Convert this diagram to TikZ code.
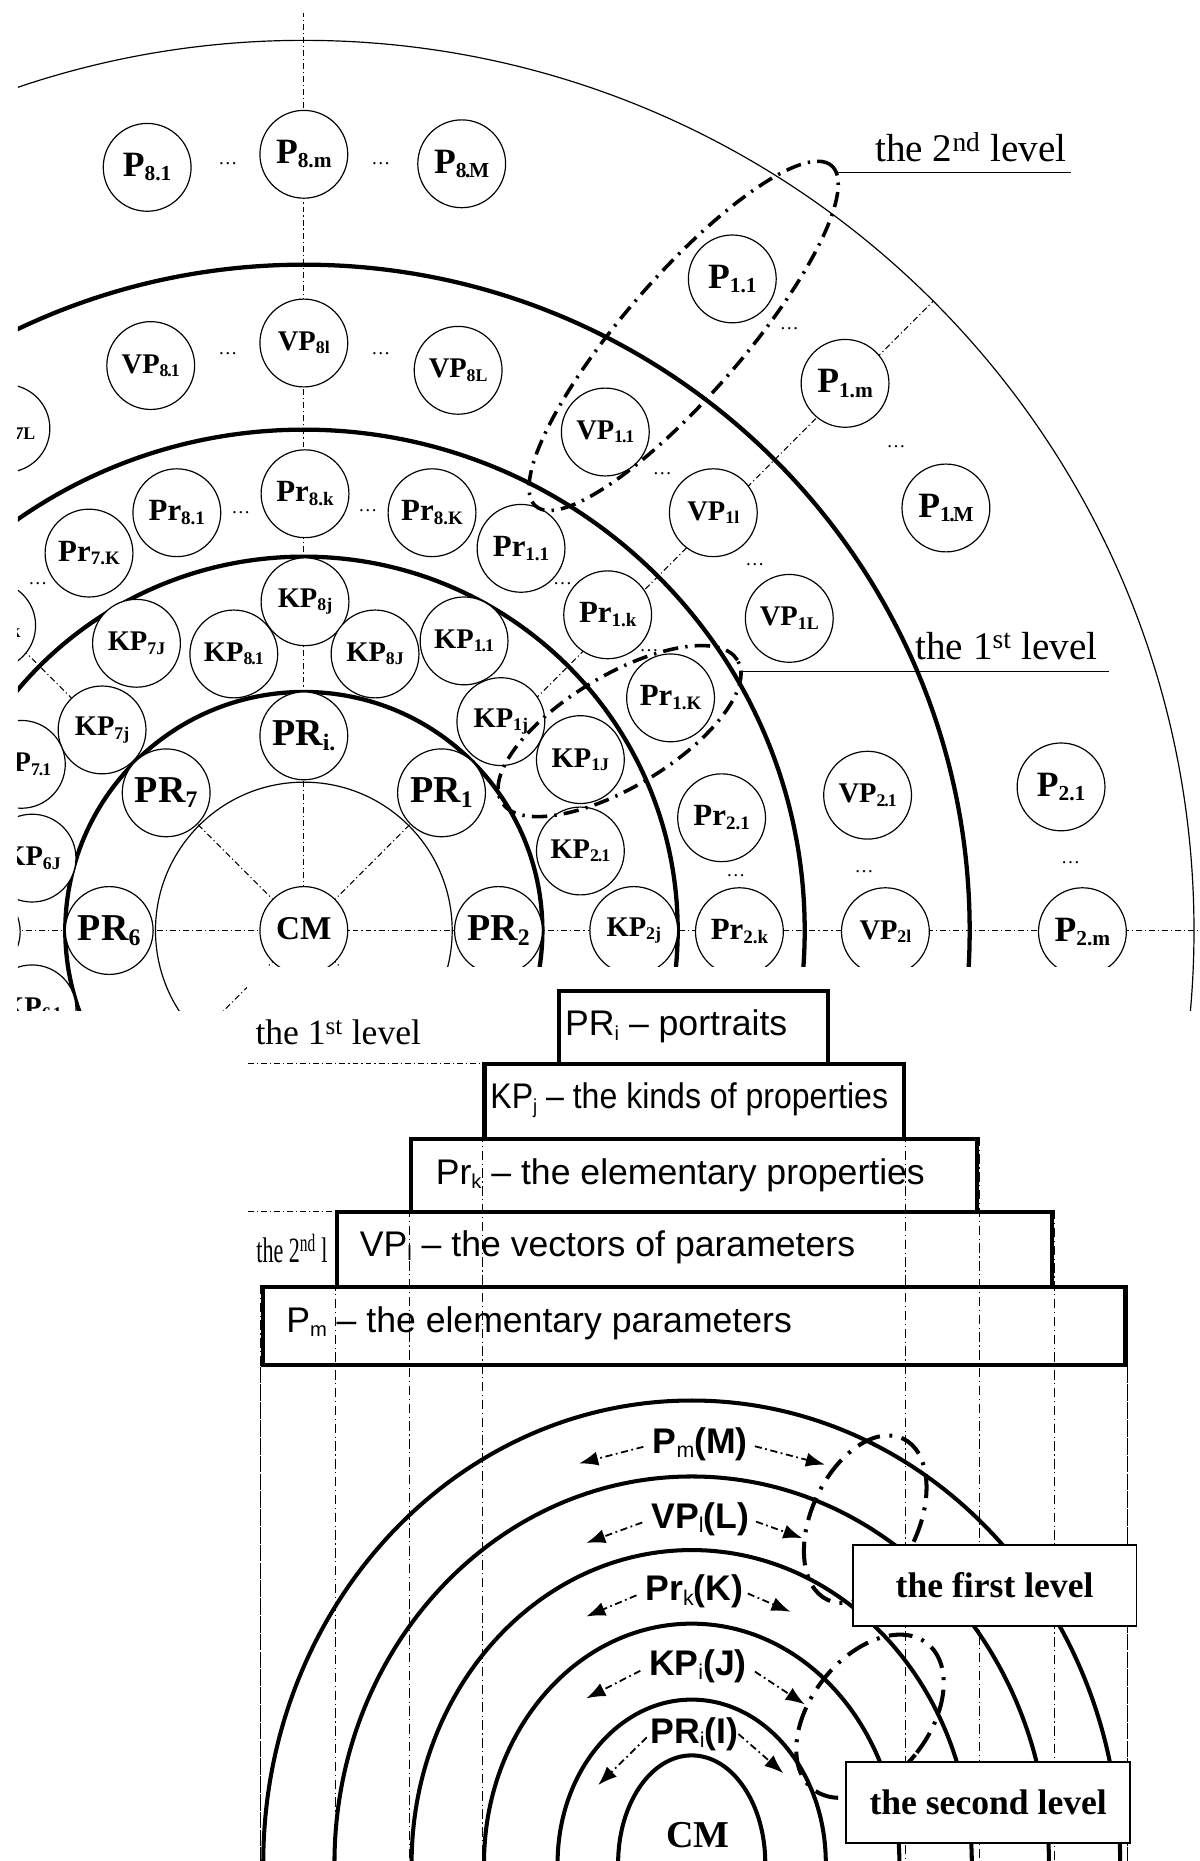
\documentclass[tikz,border=0pt]{standalone}
\usepackage{fontspec}
\setmainfont{Liberation Serif}
\setsansfont{Liberation Sans}
\usetikzlibrary{arrows.meta}
\newcommand{\nlab}[4]{{\fontsize{#1}{#1}\selectfont\bfseries #3\raisebox{-0.12em}{\fontsize{#2}{#2}\selectfont #4}}}
\newcommand{\Pl}[1]{\nlab{30}{18}{P}{#1}}
\newcommand{\VPl}[1]{\nlab{24}{15}{VP}{#1}}
\newcommand{\Prl}[1]{\nlab{26}{16}{Pr}{#1}}
\newcommand{\KPl}[1]{\nlab{24}{15}{KP}{#1}}
\newcommand{\PRl}[1]{\nlab{32}{20}{PR}{#1}}
\newcommand{\dt}{\kern-0.06em.\kern-0.06em}
\newcommand{\sbx}[2]{\raisebox{-0.12em}{\fontsize{#1}{#1}\selectfont #2}}
\begin{document}
\begin{tikzpicture}[x=1pt,y=-1pt,
  nd/.style={circle,draw,line width=1pt,fill=white,minimum size=74pt,inner sep=0pt},
  ring/.style={line width=3.6pt},
  thinring/.style={line width=1pt},
  axis/.style={line width=0.8pt,dash pattern=on 5pt off 2.5pt on 1pt off 2.5pt},
  lvl/.style={line width=3pt,dash pattern=on 13pt off 6pt on 2pt off 6pt},
  lvlb/.style={line width=3.4pt,dash pattern=on 20pt off 8pt on 2.5pt off 8pt},
  dotsst/.style={font=\fontsize{16}{16}\selectfont,inner sep=0pt},
  vline/.style={line width=0.9pt,dash pattern=on 8pt off 3pt on 1pt off 3pt},
  boxst/.style={draw,line width=3.5pt,inner sep=0pt,anchor=north west},
  boxtxt/.style={font=\sffamily\fontsize{30}{30}\selectfont,anchor=west,inner sep=0pt},
  arr/.style={line width=1.5pt,dash pattern=on 6pt off 3pt on 1.5pt off 3pt,-{Latex[length=16pt,width=12pt]}},
  elab/.style={font=\sffamily\bfseries\fontsize{30}{30}\selectfont,inner sep=0pt},
  lvlbox/.style={draw,fill=white,line width=1.5pt,anchor=north west,inner sep=0pt},
  lvltxt/.style={font=\fontsize{33}{33}\selectfont,inner sep=0pt},
  ring2/.style={line width=3.4pt}
]
\useasboundingbox (0,0) rectangle (1011,1568);
\fill[white] (0,0) rectangle (1011,1568);
\coordinate (C) at (256,784);
\begin{scope}
\clip (15,0) rectangle (1011,851);
\coordinate (vtop) at (256,11);
\coordinate (hl) at (0,784);
\coordinate (hr) at (1011,784);
\draw[axis] (C) -- (vtop);
\draw[axis] (hl) -- (hr);
\draw[axis] (C) -- ++(45:750pt);
\draw[axis] (C) -- ++(135:900pt);
\draw[axis] (C) -- ++(225:300pt);
\draw[axis] (C) -- ++(315:300pt);
\draw[thinring] (C) circle [radius=125pt];
\draw[ring] (C) circle [radius=201pt];
\draw[ring] (C) circle [radius=315pt];
\draw[ring] (C) circle [radius=422pt];
\draw[ring] (C) circle [radius=561pt];
\draw[thinring] (C) circle [radius=750pt];
% centre and portraits
\node[nd] (CM) at (C) {\nlab{28}{18}{CM}{}};
\node[nd] (PRi) at (256,620) {\PRl{i.}};
\node[nd] (PR1) at (372,668) {\PRl{1}};
\node[nd] (PR2) at (420,784) {\PRl{2}};
\node[nd] (PR6) at (92,784) {\PRl{6}};
\node[nd] (PR7) at (140,668) {\PRl{7}};
% kinds of properties
\node[nd] (KP8j) at (257,507) {\KPl{8j}};
\node[nd] (KP7J) at (115,542) {\KPl{7J}};
\node[nd] (KP81) at (197,551) {\KPl{8\dt1}};
\node[nd] (KP8J) at (316,551) {\KPl{8J}};
\node[nd] (KP11) at (391,540) {\KPl{1\dt1}};
\node[nd] (KP7j) at (86,615) {\KPl{7j}};
\node[nd] (KP1j) at (422,608) {\KPl{1j}};
\node[nd] (KP1J) at (489,640) {\KPl{1J}};
\node[nd] (KP21) at (489,717) {\KPl{2\dt1}};
\node[nd] (KP2j) at (534,784) {\KPl{2j}};
\node[nd] (KP71) at (18,644) {\KPl{7\dt1}};
\node[nd] (KP6J) at (27,723) {\KPl{6J}};
\node[nd] (KP61) at (27,850) {\KPl{6\dt1}};
\node[nd] (KP6j) at (-20,785) {};
% elementary properties
\node[nd] (Pr81) at (149,432) {\Prl{8.1}};
\node[nd] (Pr8k) at (257,416) {\Prl{8.k}};
\node[nd] (Pr8K) at (364,432) {\Prl{8.K}};
\node[nd] (Pr7K) at (75,466) {\Prl{7.K}};
\node[nd] (Pr7k) at (-7,527) {\Prl{7.k}};
\node[nd] (Pr11) at (439,462) {\Prl{1.1}};
\node[nd] (Pr1k) at (512,518) {\Prl{1.k}};
\node[nd] (Pr1K) at (565,588) {\Prl{1.K}};
\node[nd] (Pr21) at (608,689) {\Prl{2.1}};
\node[nd] (Pr2k) at (623,785) {\Prl{2.k}};
% vectors of parameters
\node[nd] (VP81) at (127,308) {\VPl{8\dt1}};
\node[nd] (VP8l) at (256,289) {\VPl{8l}};
\node[nd] (VP8L) at (386,312) {\VPl{8L}};
\node[nd] (VP7L) at (5,361) {\VPl{7L}};
\node[nd] (VP11) at (510,364) {\VPl{1\dt1}};
\node[nd] (VP1l) at (601,432) {\VPl{1l}};
\node[nd] (VP1L) at (665,521) {\VPl{1L}};
\node[nd] (VP21) at (731,670) {\VPl{2\dt1}};
\node[nd] (VP2l) at (746,785) {\VPl{2l}};
% elementary parameters
\node[nd] (P81) at (124,141) {\Pl{8.1}};
\node[nd] (P8m) at (256,130) {\Pl{8.m}};
\node[nd] (P8M) at (389,138) {\Pl{8\dt M}};
\node[nd] (P11) at (617,235) {\Pl{1.1}};
\node[nd] (P1m) at (712,323) {\Pl{1.m}};
\node[nd] (P1M) at (797,428) {\Pl{1\dt M}};
\node[nd] (P21) at (894,663) {\Pl{2.1}};
\node[nd] (P2m) at (912,785) {\Pl{2.m}};
% dots
\foreach \n/\p in {a/{(192,138)},b/{(321,138)},c/{(192,298)},d/{(321,298)},e/{(203,432)},f/{(310,430)},g/{(32,492)},h/{(474,492)},i/{(665,277)},j/{(755,376)},k/{(558,399)},l/{(636,476)},m/{(547,548)},n/{(620,738)},o/{(728,734)},p/{(902,727)}}
  \node[dotsst] (dots\n) at \p {\ldots};
% level outlines
\draw[lvl,shift={(576,283)},rotate=49] (0,0) ellipse [x radius=190pt,y radius=50pt];
\draw[lvl,shift={(522,616)},rotate=31] (0,0) ellipse [x radius=116pt,y radius=47pt];
\coordinate (u2a) at (705,145);
\coordinate (u2b) at (902,145);
\coordinate (u1a) at (624,566);
\coordinate (u1b) at (934,566);
\draw[line width=0.9pt] (u2a) -- (u2b);
\draw[line width=0.9pt] (u1a) -- (u1b);
\node[lvltxt] (lev2) at (818,124) {the 2\textsuperscript{nd} level};
\node[lvltxt] (lev1) at (848,544) {the 1\textsuperscript{st} level};
\end{scope}
% lower canvas
\fill[white] (208,815) rectangle (985,1568);
% pyramid
\node[boxst,minimum width=226.8pt,minimum height=60.9pt] (b1) at (469.4,833.5) {};
\node[boxst,minimum width=353.1pt,minimum height=63.2pt] (b2) at (406.5,894.4) {};
\node[boxst,minimum width=476.6pt,minimum height=61.8pt] (b3) at (344.8,957.6) {};
\node[boxst,minimum width=602.4pt,minimum height=63.1pt] (b4) at (282.4,1019.4) {};
\node[boxst,minimum width=727.1pt,minimum height=65.5pt] (b5) at (219.5,1082.5) {};
\node[boxtxt] (t1) at (476,865) {PR\sbx{17}{i} – portraits};
\node[boxtxt] (t2) at (413,927) {\scalebox{0.9}[1]{KP\sbx{17}{j} – the kinds of properties}};
\node[boxtxt] (t3) at (367,990) {Pr\sbx{17}{k} – the elementary properties};
\node[boxtxt] (t4) at (303,1051) {VP\sbx{17}{l} – the vectors of parameters};
\node[boxtxt] (t5) at (241,1115) {P\sbx{17}{m} – the elementary parameters};
\coordinate (bot) at (0,1568);
\foreach \b/\c in {b2/north west,b2/north east,b3/north west,b3/north east,b4/north west,b4/north east,b5/north west,b5/north east,b5/south west,b5/south east}
  \draw[vline] (\b.\c) -- (\b.\c |- bot);
\node[font=\fontsize{30}{30}\selectfont,inner sep=0pt] (l1) at (285,870) {the 1\textsuperscript{st} level};
\coordinate (l1a) at (209,896);
\coordinate (l1b) at (406,896);
\draw[axis] (l1a) -- (l1b);
\coordinate (l2a) at (209,1021);
\coordinate (l2b) at (282,1021);
\draw[axis] (l2a) -- (l2b);
\node[font=\fontsize{30}{30}\selectfont,inner sep=0pt] (l2) at (246,1052) {\scalebox{0.62}[1]{the 2\textsuperscript{nd} l}};
% ellipses
\coordinate (E) at (582.8,1570);
\draw[ring2] (E) ellipse [x radius=361pt,y radius=390pt];
\draw[ring2] (E) ellipse [x radius=301pt,y radius=326pt];
\draw[ring2] (E) ellipse [x radius=236pt,y radius=264pt];
\draw[ring2] (E) ellipse [x radius=175pt,y radius=202pt];
\draw[ring2] (E) ellipse [x radius=113pt,y radius=138pt];
\draw[ring2] (E) ellipse [x radius=62pt,y radius=91pt];
\node[font=\bfseries\fontsize{32}{32}\selectfont,inner sep=0pt] (cm2) at (588,1546) {CM};
\node[elab] (lm) at (590,1217) {P\sbx{18}{\mdseries m}(M)};
\node[elab] (ll) at (590,1280) {VP\sbx{18}{\mdseries l}(L)};
\node[elab] (lk) at (585,1341) {Pr\sbx{18}{\mdseries k}(K)};
\node[elab] (lj) at (588,1404) {KP\sbx{18}{\mdseries i}(J)};
\node[elab] (li) at (585,1461) {PR\sbx{18}{\mdseries i}(I)};
\coordinate (ma) at (488,1233); \coordinate (mb) at (695,1234);
\coordinate (la) at (494,1300); \coordinate (lb) at (676,1296);
\coordinate (ka) at (494,1362); \coordinate (kb) at (666,1358);
\coordinate (ja) at (494,1431); \coordinate (jb) at (678,1436);
\coordinate (ia) at (504,1504); \coordinate (ib) at (660,1494);
\draw[arr,shorten <=8pt] (lm.west) -- (ma);
\draw[arr,shorten <=6pt] (lm.east) -- (mb);
\draw[arr,shorten <=8pt] (ll.west) -- (la);
\draw[arr,shorten <=6pt] (ll.east) -- (lb);
\draw[arr,shorten <=8pt] (lk.west) -- (ka);
\draw[arr,shorten <=4pt] (lk.east) -- (kb);
\draw[arr,shorten <=8pt] (lj.west) -- (ja);
\draw[arr,shorten <=8pt] (lj.east) -- (jb);
\draw[arr,shorten <=4pt] (li.west) -- (ia);
\draw[arr,shorten <=0pt] (li.east) -- (ib);
\draw[lvlb,shift={(729,1280)},rotate=-25] (0,0) ellipse [x radius=45pt,y radius=75pt];
\draw[lvlb,shift={(733,1446)},rotate=-38] (0,0) ellipse [x radius=50pt,y radius=78pt];
\node[lvlbox,minimum width=239.1pt,minimum height=68.3pt] (fl) at (717.7,1300.7) {};
\node[font=\bfseries\fontsize{30}{30}\selectfont,inner sep=0pt] (flt) at (fl.center) {the first level};
\node[lvlbox,minimum width=239.1pt,minimum height=68.4pt] (sl) at (712.3,1483.6) {};
\node[font=\bfseries\fontsize{30}{30}\selectfont,inner sep=0pt] (slt) at (sl.center) {the second level};
\end{tikzpicture}
\end{document}
